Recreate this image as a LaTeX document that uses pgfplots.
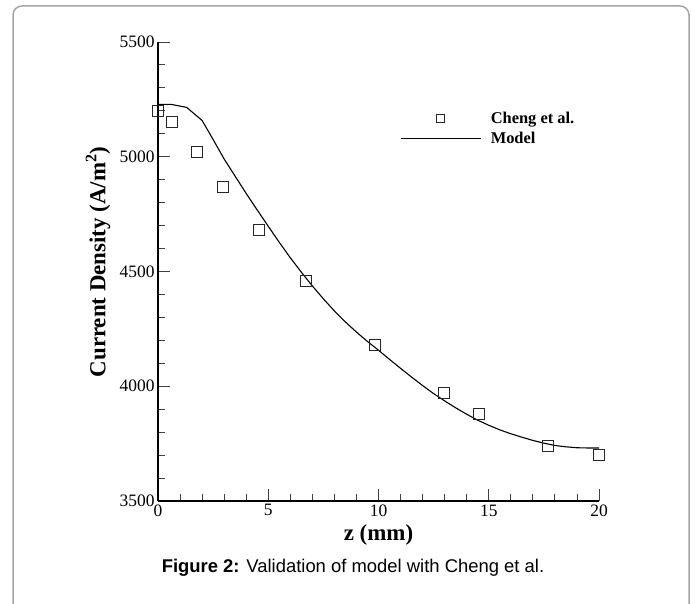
\documentclass[border=0pt]{standalone}
\usepackage{pgfplots}
\pgfplotsset{compat=1.18}
\usepackage{fontspec}
\setmainfont{Liberation Serif}
\newfontfamily\capfont{Liberation Sans}
\begin{document}
\begin{tikzpicture}[x=1bp,y=1bp]
\useasboundingbox (0,0) rectangle (695,604);
\fill[white] (0,0) rectangle (695,604);
\draw[line width=1.5bp, black!35, rounded corners=9bp] (13,-20) -- (13,598) -- (689,598) -- (689,-20);
\begin{axis}[
  at={(158bp,103bp)}, anchor=south west,
  width=441bp, height=459bp, scale only axis,
  xmin=0, xmax=20, ymin=3500, ymax=5500,
  axis lines*=left,
  axis line style={line width=1.4bp},
  xtick={0,5,...,20}, ytick={3500,4000,...,5500},
  minor x tick num=4, minor y tick num=4,
  tick align=inside,
  major tick length=12bp, minor tick length=7bp,
  every tick/.style={line width=0.9bp, black!75},
  ticklabel style={font=\fontsize{17.5}{19}\selectfont},
  /pgf/number format/assume math mode=true,
  /pgf/number format/1000 sep={},
  xticklabel style={yshift=0bp},
  yticklabel style={xshift=0bp},
  xlabel={\textbf{z (mm)}},
  ylabel={\textbf{Current Density (A/m\textsuperscript{2})}},
  label style={font=\fontsize{23}{25}\selectfont},
  xlabel style={at={(axis description cs:0.5,-0.074)}, anchor=center},
  ylabel style={at={(axis description cs:-0.136,0.521)}, anchor=center},
  clip=false,
  legend style={draw=none, fill=none, at={(axis cs:10.975,5123)}, anchor=west,
    font=\bfseries\fontsize{16.5}{18}\selectfont, row sep=3bp, inner sep=0pt,
    cells={anchor=west}},
]
\addplot[only marks, mark=square, mark size=5.5bp, mark options={line width=1.1bp, draw=black!85},
  legend image code/.code={\draw[black!85, line width=1bp] (36bp,-4bp) rectangle (44bp,4bp); \path[draw=none] (0bp,0bp) -- (88bp,0bp);}]
coordinates {
(0,5200) (0.63,5152) (1.77,5020) (2.95,4870) (4.58,4680) (6.71,4460)
(9.84,4180) (12.97,3970) (14.56,3880) (17.69,3740) (20,3700)
};
\addlegendentry{Cheng et al.}
\addplot[black, line width=1.1bp,
  legend image code/.code={\draw[black, line width=1.1bp] (0bp,0bp) -- (80bp,0bp); \path[draw=none] (88bp,0bp);}]
coordinates {
(0,5228) (0.6,5228) (1.3,5215) (2.0,5158) (2.5,5075) (3.0,4990) (3.5,4915)
(4.0,4840) (4.5,4768) (5.0,4697) (5.5,4627) (6.0,4560) (6.5,4497) (7.0,4437)
(7.5,4381) (8.0,4328) (8.5,4280) (9.0,4236) (9.5,4195) (10.0,4157) (10.5,4117)
(11.0,4078) (11.5,4040) (12.0,4003) (12.5,3968) (13.0,3936) (13.5,3906)
(14.0,3878) (14.5,3852) (15.0,3830) (15.5,3810) (16.0,3793) (16.5,3778)
(17.0,3764) (17.5,3752) (18.0,3742) (18.5,3736) (19.0,3732) (19.5,3731) (20.0,3731)
};
\addlegendentry{Model}
\end{axis}
\node[font=\capfont\fontsize{18.5}{20}\selectfont, anchor=base] at (353,31) {\textbf{Figure 2:} Validation of model with Cheng et al.};
\end{tikzpicture}
\end{document}
